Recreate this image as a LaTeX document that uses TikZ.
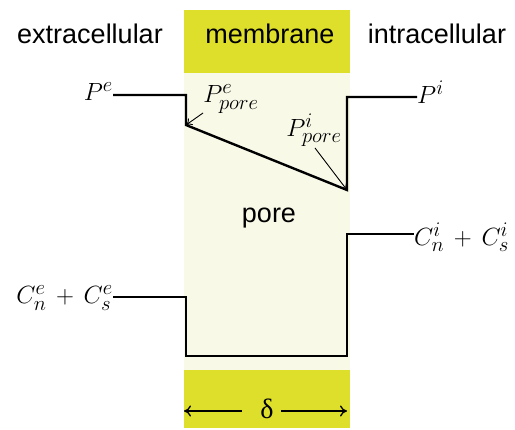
\documentclass[tikz,border=0pt]{standalone}
\usepackage{fontspec}
\setmainfont{Liberation Sans}
\newfontfamily\greekserif{Liberation Serif}
\usetikzlibrary{arrows.meta}
\definecolor{memyellow}{RGB}{222,223,42}
\definecolor{porefill}{RGB}{249,249,232}
\begin{document}
\begin{tikzpicture}[x=1pt,y=-1pt,
  lbl/.style={font=\fontsize{27}{30}\selectfont, inner sep=0pt},
  mlbl/.style={font=\fontsize{28}{32}\selectfont, inner sep=0pt},
  profile/.style={line width=2.4pt, line join=miter},
  ptr/.style={line width=0.9pt, -{To[length=6pt,width=8pt]}},
  dimarrow/.style={line width=1.3pt, -{To[length=7pt,width=11pt]}}]
\useasboundingbox (0,0) rectangle (515,430);
% membrane areas
\fill[porefill] (184,73) rectangle (350,370);
\fill[memyellow] (184,10) rectangle (350,73);
\fill[memyellow] (184,370) rectangle (350,428);
% headers
\node[lbl] (ext) at (90,34) {extracellular};
\node[lbl] (mem) at (270,34) {membrane};
\node[lbl] (intra) at (437,34) {intracellular};
\node[lbl] (pore) at (269,218) {pore};
% pressure profile
\node[mlbl, anchor=east] (Pe) at (113,92) {$P^e$};
\node[mlbl, anchor=west] (Pi) at (417,92) {$P^i$};
\coordinate (a1) at (186,95);
\coordinate (a2) at (186,125);
\coordinate (a3) at (347,190);
\coordinate (a4) at (347,97);
\draw[profile] (Pe.east |- 0,95) -- (a1) -- (a2) -- (a3) -- (a4) -- (Pi.west |- 0,97);
\node[mlbl] (Pep) at (231,99) {$P^e_{pore}$};
\node[mlbl] (Pip) at (314,130) {$P^i_{pore}$};
\draw[ptr] (203,113) -- (a2);
\draw[ptr] (315,148) -- (a3);
% concentration profile
\node[mlbl, anchor=east] (Ce) at (113,298) {$C^e_n\,+\,C^e_s$};
\node[mlbl, anchor=west] (Ci) at (414,237) {$C^i_n\,+\,C^i_s$};
\coordinate (b1) at (186,297);
\coordinate (b2) at (186,356);
\coordinate (b3) at (347,356);
\coordinate (b4) at (347,234);
\draw[profile] (Ce.east |- 0,297) -- (b1) -- (b2) -- (b3) -- (b4) -- (Ci.west |- 0,234);
% thickness
\node[font=\greekserif\fontsize{28}{30}\selectfont, inner sep=1pt] (delta) at (267,409) {δ};
\coordinate (dl) at (184,411);
\coordinate (dr) at (347,411);
\draw[dimarrow] (242,411) -- (dl);
\draw[dimarrow] (281,411) -- (dr);
\end{tikzpicture}
\end{document}
